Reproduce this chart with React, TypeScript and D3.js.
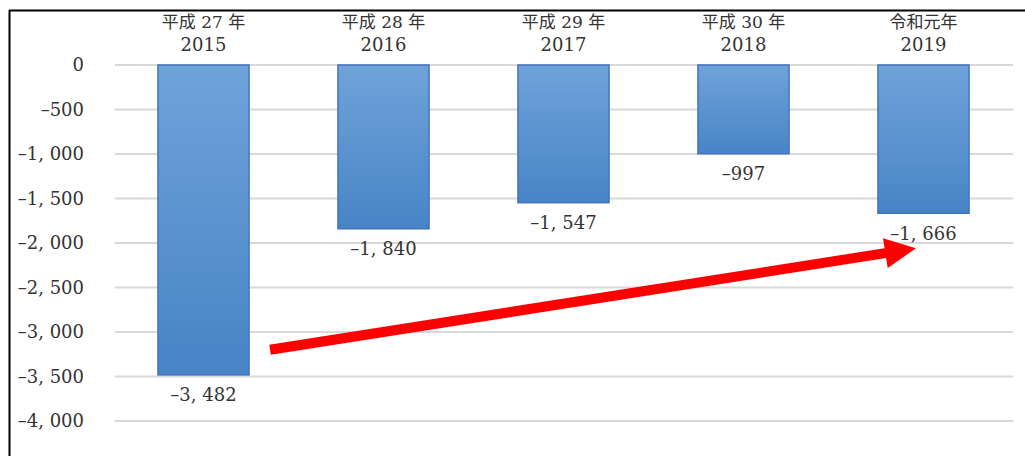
import React from 'react';
import * as d3 from 'd3';

const eraLabels = ['平成 27 年', '平成 28 年', '平成 29 年', '平成 30 年', '令和元年'];
const years = ['2015', '2016', '2017', '2018', '2019'];
const values = [-3482, -1840, -1547, -997, -1666];
const yTicks = [0, -500, -1000, -1500, -2000, -2500, -3000, -3500, -4000];

// trend arrow, given in data terms: from right of the first bar to the last bar
const arrowFrom = { year: '2015', value: -3200 };
const arrowTo = { year: '2019', value: -2060 };

const width = 1025;
const height = 456;
const FONT = '"DejaVu Serif", "Liberation Serif", "Noto Sans CJK JP", serif';
const JP_FONT = '"DejaVu Serif", "Noto Sans CJK JP", serif';

// "-3482" -> "–3, 482"
const fmt = (v: number) => {
  const s = d3.format(',')(Math.abs(v)).replace(/,/g, ', ');
  return (v < 0 ? '\u2013' : '') + s;
};

const App: React.FC = () => {
  const x = d3.scaleBand<string>()
    .domain(years)
    .range([113.5, 1013.5])
    .paddingInner(0.494)
    .paddingOuter(0.247);

  const y = d3.scaleLinear()
    .domain([0, -4000])
    .range([65, 421]);

  const bw = x.bandwidth();

  // arrow geometry
  const x0 = (x(arrowFrom.year) as number) + bw + 21;
  const y0 = y(arrowFrom.value);
  const x1 = (x(arrowTo.year) as number) + 38;
  const y1 = y(arrowTo.value);
  const ang = Math.atan2(y1 - y0, x1 - x0);
  const len = Math.hypot(x1 - x0, y1 - y0);
  const headLen = 31;
  const headHalf = 15;
  const shaft = 5;
  const arrowPts: [number, number][] = [
    [0, -shaft], [len - headLen, -shaft], [len - headLen, -headHalf], [len, 0],
    [len - headLen, headHalf], [len - headLen, shaft], [0, shaft],
  ];

  return (
    <div style={{ position: 'absolute', left: 0, top: 0 }}>
      <svg width={width} height={height} style={{ display: 'block', background: '#fff' }}>
        <defs>
          <linearGradient id="barGrad" x1="0" y1="0" x2="0" y2="1">
            <stop offset="0%" stopColor="#6fa3da" />
            <stop offset="100%" stopColor="#4784c6" />
          </linearGradient>
        </defs>

        {/* frame */}
        <line x1={9.5} x2={9.5} y1={10} y2={height} stroke="#000" strokeWidth={2} />
        <line x1={9} x2={width} y1={10.5} y2={10.5} stroke="#000" strokeWidth={2} />

        {/* gridlines + tick labels */}
        {yTicks.map(t => (
          <g key={t}>
            <line x1={115} x2={1013} y1={y(t)} y2={y(t)} stroke="#d9d9d9" strokeWidth={2} />
            <text x={84} y={y(t)} dy="0.35em" textAnchor="end" fontFamily={FONT} fontSize={18} fill="#333">
              {fmt(t)}
            </text>
          </g>
        ))}

        {/* bars */}
        {years.map((yr, i) => {
          const bx = x(yr) as number;
          const top = y(0);
          const bottom = y(values[i]);
          return (
            <g key={yr}>
              <rect x={bx} y={top} width={bw} height={bottom - top}
                fill="url(#barGrad)" stroke="#4472c4" strokeWidth={1.5} />
              <text x={bx + bw / 2} y={bottom + 20} dy="0.35em" textAnchor="middle"
                fontFamily={FONT} fontSize={18} fill="#333">
                {fmt(values[i])}
              </text>
              <text x={bx + bw / 2} y={22} dy="0.35em" textAnchor="middle"
                fontFamily={JP_FONT} fontSize={17} fill="#333">
                {eraLabels[i]}
              </text>
              <text x={bx + bw / 2} y={45} dy="0.35em" textAnchor="middle"
                fontFamily={FONT} fontSize={18} fill="#333">
                {yr}
              </text>
            </g>
          );
        })}

        {/* trend arrow */}
        <polygon
          points={arrowPts.map(p => p.join(',')).join(' ')}
          transform={`translate(${x0},${y0}) rotate(${(ang * 180) / Math.PI})`}
          fill="#ff0000"
        />
      </svg>
    </div>
  );
};

export default App;
